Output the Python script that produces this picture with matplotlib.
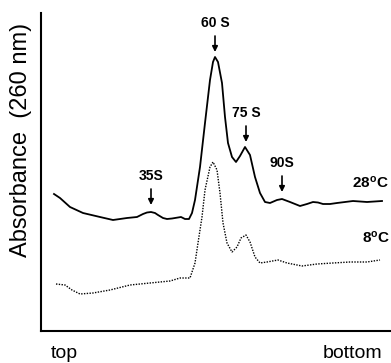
import matplotlib.pyplot as plt

plt.rcParams['font.family'] = ['Liberation Sans', 'DejaVu Sans']
plt.rcParams['mathtext.fontset'] = 'custom'
plt.rcParams['mathtext.rm'] = 'Liberation Sans'
plt.rcParams['mathtext.bf'] = 'Liberation Sans:bold'

# gradient position (top -> bottom) and absorbance
x_28 = [54, 60, 70, 83, 100, 113, 127, 137, 143, 147, 151, 155, 158, 163, 167, 172,
        175, 181, 185, 189, 192, 195, 200, 205, 210, 213, 215, 218, 222, 225, 228, 232,
        236, 240, 245, 250, 255, 260, 265, 270, 277, 282, 290, 300, 307, 313, 318, 323,
        330, 337, 345, 353, 367, 382]
y_28 = [137, 133, 124, 118, 114, 111, 113, 114, 117, 118.5, 119, 118, 116, 113, 112, 112.5,
        113, 114, 112, 112, 118, 131, 164, 208, 251, 269, 274, 269, 248, 214, 188, 174,
        169, 175, 184, 176, 154, 138, 129, 128, 131, 132, 129, 125, 127, 129, 128.5, 127,
        127, 128, 129, 130, 129, 130]

x_8 = [56, 65, 72, 80, 93, 110, 130, 150, 170, 180, 190, 195, 198, 202, 205, 210,
       213, 217, 220, 223, 227, 232, 237, 241, 246, 250, 255, 260, 267, 278, 287, 302,
       317, 333, 350, 367, 380]
y_8 = [47, 46, 41, 37, 38, 41, 46, 48, 50, 53, 53, 68, 88, 114, 141, 164,
       169, 161, 138, 108, 88, 79, 84, 93, 96, 89, 74, 68, 69, 71, 68, 65,
       67, 68, 69, 69, 71]

peaks = ['60 S', '75 S', '90S', '35S']
peak_x = [215, 246, 282, 151]
peak_y = [279, 189, 139, 126]

fig = plt.figure(figsize=(3.91, 3.63), dpi=100)
ax = fig.add_axes([41 / 391, 32 / 363, 350 / 391, 318 / 363])
ax.plot(x_28, y_28, color='black', lw=1.3, solid_joinstyle='round')
ax.plot(x_8, y_8, color='black', lw=1.0, ls=(0, (1, 1)))

for lab, px, py in zip(peaks, peak_x, peak_y):
    ax.annotate('', xy=(px, py), xytext=(px, py + 16),
                arrowprops=dict(arrowstyle='-|>', color='black', lw=1.2,
                                mutation_scale=8, shrinkA=0, shrinkB=0))
    ax.text(px, py + 22, lab, ha='center', va='bottom', fontsize=10, fontweight='bold')

ax.text(370, 140, r'$\mathbf{28^{o}C}$', ha='center', va='bottom', fontsize=11)
ax.text(376, 85, r'$\mathbf{8^{o}C}$', ha='center', va='bottom', fontsize=11)

ax.set_xlim(41, 391)
ax.set_ylim(0, 318)
ax.set_xticks([])
ax.set_yticks([])
for s in ['top', 'right']:
    ax.spines[s].set_visible(False)
ax.spines['left'].set_linewidth(1.5)
ax.spines['bottom'].set_linewidth(1.5)

ax.set_ylabel('Absorbance  (260 nm)', fontsize=17)
ax.yaxis.set_label_coords(-0.025, 0.6)
fig.text(64 / 391, 1 - 354 / 363, 'top', ha='center', va='center', fontsize=14)
fig.text(352 / 391, 1 - 354 / 363, 'bottom', ha='center', va='center', fontsize=14)

fig.savefig('out.png', dpi=100)
